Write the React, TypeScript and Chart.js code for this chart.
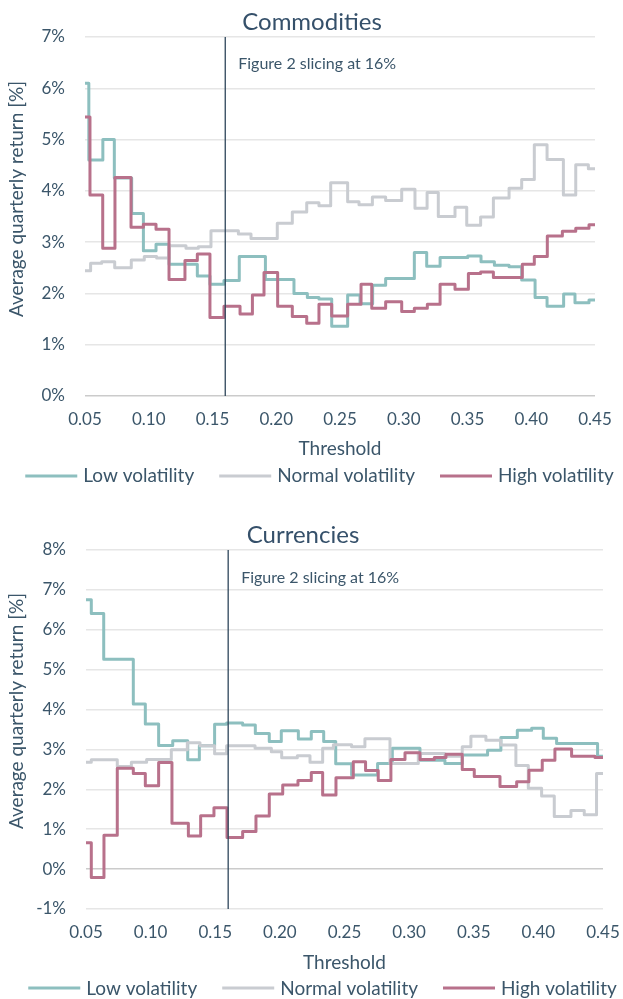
import React, { useEffect, useRef } from "react";
import { Chart, registerables } from "chart.js";

Chart.register(...registerables);

// ---------- data ----------
const SERIES_NAMES = ["Low volatility", "Normal volatility", "High volatility"];
const SERIES_COLORS = ["#8dbfbf", "#c9ccd1", "#b8718b"];
const X_TICKS = [0.05, 0.1, 0.15, 0.2, 0.25, 0.3, 0.35, 0.4, 0.45];
const X_TITLE = "Threshold";
const Y_TITLE = "Average quarterly return [%]";
const SLICE = 0.16;
const SLICE_LABEL = "Figure 2 slicing at 16%";

// Commodities (threshold where each level starts, average quarterly return in %)
const commLowX = [0.05, 0.053, 0.064, 0.073, 0.0866, 0.0958, 0.1057, 0.1159, 0.1381, 0.148, 0.159, 0.171, 0.1915, 0.2139, 0.2244, 0.2335, 0.2435, 0.256, 0.2657, 0.2756, 0.2858, 0.3083, 0.318, 0.3285, 0.3502, 0.3606, 0.3711, 0.3826, 0.3925, 0.403, 0.4124, 0.4254, 0.4343, 0.4453, 0.45];
const commLowY = [6.10, 4.60, 5.00, 4.25, 3.56, 2.83, 2.96, 2.57, 2.34, 2.18, 2.25, 2.72, 2.27, 2.00, 1.92, 1.89, 1.36, 1.97, 1.80, 2.16, 2.29, 2.80, 2.53, 2.70, 2.73, 2.62, 2.55, 2.52, 2.26, 1.92, 1.75, 1.99, 1.82, 1.87, 1.87];
const commNormX = [0.05, 0.0544, 0.0631, 0.0733, 0.0863, 0.0965, 0.1062, 0.1161, 0.1292, 0.1389, 0.1488, 0.1703, 0.1802, 0.2008, 0.2126, 0.2239, 0.2335, 0.2427, 0.256, 0.2649, 0.2754, 0.2858, 0.2984, 0.3088, 0.3183, 0.3271, 0.3402, 0.3494, 0.3603, 0.3703, 0.3826, 0.3925, 0.4024, 0.4124, 0.4252, 0.4349, 0.4448, 0.45];
const commNormY = [2.44, 2.59, 2.62, 2.50, 2.65, 2.72, 2.69, 2.93, 2.88, 2.91, 3.22, 3.16, 3.07, 3.37, 3.59, 3.77, 3.71, 4.16, 3.79, 3.73, 3.88, 3.81, 4.03, 3.66, 3.97, 3.50, 3.68, 3.33, 3.49, 3.86, 4.05, 4.22, 4.90, 4.61, 3.92, 4.51, 4.43, 4.43];
const commHighX = [0.05, 0.0539, 0.0639, 0.0735, 0.0861, 0.0958, 0.1057, 0.1159, 0.1284, 0.1381, 0.148, 0.159, 0.1716, 0.1813, 0.1904, 0.2011, 0.2126, 0.2239, 0.2335, 0.2435, 0.256, 0.2665, 0.2749, 0.2858, 0.2984, 0.3083, 0.3185, 0.3285, 0.3402, 0.3507, 0.3603, 0.3703, 0.393, 0.4024, 0.4126, 0.4244, 0.4349, 0.4453, 0.45];
const commHighY = [5.44, 3.92, 2.88, 4.26, 3.29, 3.35, 3.25, 2.27, 2.64, 2.77, 1.53, 1.75, 1.60, 1.97, 2.41, 1.75, 1.55, 1.42, 1.79, 1.56, 1.79, 2.18, 1.71, 1.84, 1.65, 1.71, 1.79, 2.18, 2.08, 2.39, 2.42, 2.31, 2.57, 2.72, 3.12, 3.21, 3.27, 3.34, 3.34];

// Currencies
const currLowX = [0.05, 0.0541, 0.0637, 0.0866, 0.0959, 0.1062, 0.1171, 0.1287, 0.1377, 0.1495, 0.1588, 0.1712, 0.181, 0.1918, 0.2011, 0.2143, 0.2243, 0.2339, 0.2432, 0.2555, 0.2756, 0.287, 0.3084, 0.3277, 0.3411, 0.3607, 0.371, 0.3837, 0.3948, 0.4038, 0.4141, 0.4458, 0.45];
const currLowY = [6.75, 6.41, 5.26, 4.14, 3.64, 3.10, 3.22, 2.74, 3.09, 3.63, 3.66, 3.61, 3.40, 3.20, 3.47, 3.26, 3.45, 3.20, 2.64, 2.36, 2.65, 3.03, 2.73, 2.65, 2.86, 2.98, 3.30, 3.48, 3.53, 3.28, 3.15, 2.83, 2.83];
const currNormX = [0.05, 0.0541, 0.0742, 0.0851, 0.0969, 0.116, 0.1284, 0.1382, 0.1495, 0.1588, 0.1808, 0.1934, 0.2014, 0.2135, 0.2233, 0.2331, 0.2414, 0.2555, 0.2658, 0.2852, 0.3071, 0.3277, 0.3411, 0.3478, 0.3594, 0.371, 0.3826, 0.3922, 0.4025, 0.4123, 0.4252, 0.4355, 0.445, 0.45];
const currNormY = [2.68, 2.74, 2.57, 2.68, 2.75, 2.99, 3.17, 3.09, 2.89, 3.09, 3.03, 2.94, 2.79, 2.84, 2.68, 3.03, 3.12, 3.07, 3.27, 2.65, 2.90, 2.83, 3.07, 3.33, 3.23, 3.11, 2.60, 2.03, 1.83, 1.32, 1.47, 1.36, 2.40, 2.40];
const currHighX = [0.05, 0.0541, 0.0639, 0.0742, 0.0866, 0.0959, 0.1062, 0.1165, 0.1292, 0.1387, 0.149, 0.1591, 0.1712, 0.1815, 0.1918, 0.2022, 0.214, 0.2243, 0.2331, 0.2434, 0.2568, 0.2663, 0.2761, 0.2859, 0.2968, 0.3084, 0.3195, 0.3285, 0.3411, 0.3504, 0.3703, 0.3832, 0.3927, 0.403, 0.4128, 0.4257, 0.4438, 0.45];
const currHighY = [0.66, -0.21, 0.85, 2.53, 2.40, 2.09, 2.67, 1.15, 0.83, 1.34, 1.54, 0.79, 0.94, 1.33, 1.88, 2.11, 2.22, 2.42, 1.86, 2.29, 2.69, 2.47, 2.22, 2.75, 2.92, 2.75, 2.80, 2.88, 2.50, 2.32, 2.07, 2.19, 2.48, 2.73, 3.01, 2.83, 2.80, 2.80];

// ---------- styling ----------
const FONT = "Lato, 'Open Sans', sans-serif";
const TEXT = "#3b566a";
const TITLE_COLOR = "#35506a";

type PanelCfg = {
  title: string;
  height: number;
  yMin: number;
  yMax: number;
  series: { x: number[]; y: number[] }[];
  area: { left: number; right: number; top: number; bottom: number };
  titleX: number;
  titleBaseline: number;
  annotBaseline: number;
  xTitleBaseline: number;
  yTitleX: number;
  yTitleY: number;
  legendCenter: number;
  legendLineY: number;
  legendBaseline: number;
};

const COMMODITIES: PanelCfg = {
  title: "Commodities",
  height: 500,
  yMin: 0,
  yMax: 7,
  series: [
    { x: commLowX, y: commLowY },
    { x: commNormX, y: commNormY },
    { x: commHighX, y: commHighY },
  ],
  area: { left: 85, right: 595, top: 37, bottom: 396 },
  titleX: 312,
  titleBaseline: 30,
  annotBaseline: 69,
  xTitleBaseline: 455,
  yTitleX: 17,
  yTitleY: 199,
  legendCenter: 319.5,
  legendLineY: 476,
  legendBaseline: 482,
};

const CURRENCIES: PanelCfg = {
  title: "Currencies",
  height: 499,
  yMin: -1,
  yMax: 8,
  series: [
    { x: currLowX, y: currLowY },
    { x: currNormX, y: currNormY },
    { x: currHighX, y: currHighY },
  ],
  area: { left: 86, right: 603, top: 50, bottom: 409 },
  titleX: 303,
  titleBaseline: 43,
  annotBaseline: 83,
  xTitleBaseline: 469,
  yTitleX: 17,
  yTitleY: 211,
  legendCenter: 322.5,
  legendLineY: 488,
  legendBaseline: 495,
};

const Y_AXIS_W = 76;
const X_AXIS_H = 40;
const CANVAS_W = 623;

const decorPlugin = {
  id: "decor",
  afterDatasetsDraw(chart: any, _args: any, opts: any) {
    const cfg: PanelCfg = opts.cfg;
    if (!cfg) return;
    const { ctx, chartArea: a } = chart;
    const xs = chart.scales.x;
    ctx.save();
    // slicing line
    const px = xs.getPixelForValue(SLICE);
    ctx.strokeStyle = "#2e465b";
    ctx.lineWidth = 1.3;
    ctx.beginPath();
    ctx.moveTo(px, a.top);
    ctx.lineTo(px, a.bottom);
    ctx.stroke();
    // annotation text
    ctx.fillStyle = TEXT;
    ctx.font = `16px ${FONT}`;
    ctx.textAlign = "left";
    ctx.textBaseline = "alphabetic";
    ctx.fillText(SLICE_LABEL, px + 13, cfg.annotBaseline);
    // title
    ctx.fillStyle = TITLE_COLOR;
    ctx.font = `24px ${FONT}`;
    ctx.textAlign = "center";
    ctx.fillText(cfg.title, cfg.titleX, cfg.titleBaseline);
    // x title
    ctx.fillStyle = TEXT;
    ctx.font = `19px ${FONT}`;
    ctx.fillText(X_TITLE, (a.left + a.right) / 2, cfg.xTitleBaseline);
    // y title
    ctx.save();
    ctx.translate(cfg.yTitleX, cfg.yTitleY);
    ctx.rotate(-Math.PI / 2);
    ctx.textBaseline = "middle";
    ctx.font = `19px ${FONT}`;
    ctx.fillText(Y_TITLE, 0, 0);
    ctx.restore();
    // legend
    ctx.font = `19px ${FONT}`;
    const sample = 52;
    const gapText = 6;
    const gapItem = 25;
    const widths = SERIES_NAMES.map((n) => ctx.measureText(n).width);
    const total = widths.reduce((s, w) => s + w, 0) + SERIES_NAMES.length * (sample + gapText) + (SERIES_NAMES.length - 1) * gapItem;
    let x = cfg.legendCenter - total / 2;
    ctx.textAlign = "left";
    ctx.textBaseline = "alphabetic";
    SERIES_NAMES.forEach((name, i) => {
      ctx.strokeStyle = SERIES_COLORS[i];
      ctx.lineWidth = 3;
      ctx.lineCap = "butt";
      ctx.beginPath();
      ctx.moveTo(x, cfg.legendLineY);
      ctx.lineTo(x + sample, cfg.legendLineY);
      ctx.stroke();
      ctx.fillStyle = TEXT;
      ctx.fillText(name, x + sample + gapText, cfg.legendBaseline);
      x += sample + gapText + widths[i] + gapItem;
    });
    ctx.restore();
  },
};

function buildConfig(cfg: PanelCfg): any {
  const order = [2, 1, 0];
  return {
    type: "line",
    data: {
      datasets: cfg.series.map((s, i) => ({
        label: SERIES_NAMES[i],
        data: s.x.map((x, k) => ({ x, y: s.y[k] })),
        borderColor: SERIES_COLORS[i],
        backgroundColor: SERIES_COLORS[i],
        borderWidth: 3,
        pointRadius: 0,
        stepped: "before",
        borderJoinStyle: "round",
        fill: false,
        order: order[i],
      })),
    },
    options: {
      responsive: false,
      animation: false,
      events: [],
      layout: {
        autoPadding: false,
        padding: {
          top: cfg.area.top,
          left: cfg.area.left - Y_AXIS_W,
          right: CANVAS_W - cfg.area.right,
          bottom: cfg.height - cfg.area.bottom - X_AXIS_H,
        },
      },
      plugins: {
        legend: { display: false },
        title: { display: false },
        tooltip: { enabled: false },
        decor: { cfg },
      },
      scales: {
        x: {
          type: "linear",
          min: X_TICKS[0],
          max: X_TICKS[X_TICKS.length - 1],
          afterBuildTicks: (s: any) => {
            s.ticks = X_TICKS.map((v) => ({ value: v }));
          },
          afterFit: (s: any) => {
            s.height = X_AXIS_H;
          },
          grid: { display: false, drawTicks: true, tickLength: 13 },
          border: { display: false },
          ticks: {
            autoSkip: false,
            maxRotation: 0,
            padding: 0,
            color: TEXT,
            font: { family: FONT, size: 17 },
            callback: (v: any) => Number(v).toFixed(2),
          },
        },
        y: {
          min: cfg.yMin,
          max: cfg.yMax,
          afterFit: (s: any) => {
            s.width = Y_AXIS_W;
          },
          grid: {
            drawTicks: false,
            lineWidth: 1.5,
            color: (c: any) => (c.tick && c.tick.value === 0 ? "#cbcbcb" : "#e6e6e6"),
          },
          border: { display: false },
          ticks: {
            stepSize: 1,
            padding: 20,
            color: TEXT,
            font: { family: FONT, size: 17 },
            callback: (v: any) => `${v}%`,
          },
        },
      },
    },
    plugins: [decorPlugin],
  };
}

function Panel({ cfg, top }: { cfg: PanelCfg; top: number }) {
  const ref = useRef<HTMLCanvasElement | null>(null);
  useEffect(() => {
    if (!ref.current) return;
    const chart = new Chart(ref.current, buildConfig(cfg));
    return () => chart.destroy();
  }, [cfg]);
  return (
    <canvas
      ref={ref}
      width={CANVAS_W}
      height={cfg.height}
      style={{ position: "absolute", left: 0, top, width: CANVAS_W, height: cfg.height }}
    />
  );
}

export default function App() {
  return (
    <div style={{ position: "absolute", left: 0, top: 0, width: CANVAS_W, height: 999, background: "#ffffff" }}>
      <Panel cfg={COMMODITIES} top={0} />
      <Panel cfg={CURRENCIES} top={500} />
    </div>
  );
}
